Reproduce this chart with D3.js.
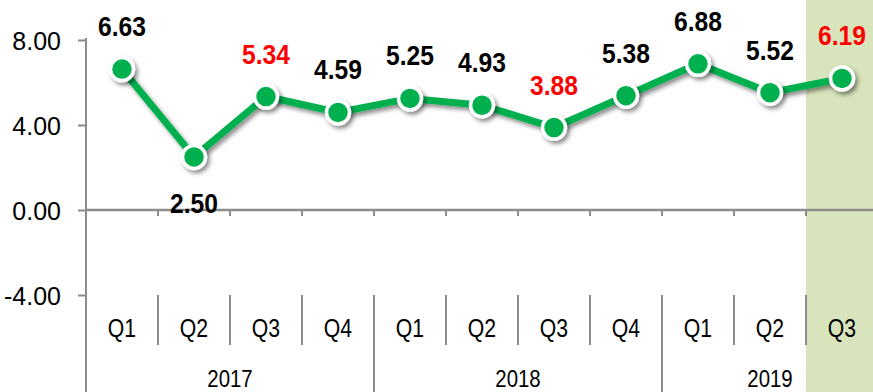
<!DOCTYPE html>
<html>
<head>
<meta charset="utf-8">
<script src="https://cdn.jsdelivr.net/npm/d3@7"></script>
<style>
  html, body { margin: 0; padding: 0; background: #fff; }
  svg { display: block; }
  text { font-family: "Liberation Sans", Arial, sans-serif; }
</style>
</head>
<body>
<svg id="chart" width="873" height="392"></svg>
<script>
// Quarterly values
const quarters = ["Q1", "Q2", "Q3", "Q4", "Q1", "Q2", "Q3", "Q4", "Q1", "Q2", "Q3"];
const years = ["2017", "2018", "2019"];
const yearSpans = [4, 4, 3];
const values = [6.63, 2.50, 5.34, 4.59, 5.25, 4.93, 3.88, 5.38, 6.88, 5.52, 6.19];
const redLabels = [2, 6, 10];
const labelBelow = [1];
const yTicks = [-4, 0, 4, 8];
const highlightIndex = 10;

const svg = d3.select("#chart");
const W = 873, H = 392;
const left = 86, step = 72;

const x = d3.scaleBand()
  .domain(d3.range(values.length))
  .range([left, left + step * values.length])
  .padding(0);

const y = d3.scaleLinear().domain([-4, 8]).range([295, 40]);

// condensed text helper: places text at (px, py) squeezed horizontally by sx
function squeezed(sel, px, py, sx) {
  return sel.attr("x", 0).attr("y", 0)
    .attr("transform", (d, i) => `translate(${px(d, i)},${py(d, i)}) scale(${sx},1)`);
}

// drop shadow
const defs = svg.append("defs");
const f = defs.append("filter").attr("id", "shadow")
  .attr("x", "-50%").attr("y", "-50%").attr("width", "200%").attr("height", "200%");
f.append("feDropShadow").attr("dx", 2.5).attr("dy", 3).attr("stdDeviation", 2)
  .attr("flood-color", "#000").attr("flood-opacity", 0.45);

// highlighted latest quarter
svg.append("rect")
  .attr("x", x(highlightIndex))
  .attr("y", 0)
  .attr("width", x.bandwidth())
  .attr("height", H)
  .attr("fill", "#d8e4bc");

const axisColor = "#8c8c8c";

// y axis
const fmt = d => d.toFixed(2);
const yAxis = svg.append("g")
  .attr("transform", `translate(${left},0)`)
  .call(d3.axisLeft(y).tickValues(yTicks).tickFormat(fmt).tickSize(8).tickSizeOuter(0));
yAxis.select(".domain").remove();
yAxis.attr("font-family", null).attr("font-size", null);
yAxis.selectAll(".tick line").attr("stroke", axisColor).attr("stroke-width", 2);
yAxis.selectAll(".tick text")
  .attr("x", -25)
  .attr("dy", "0.36em")
  .attr("font-size", 25)
  .attr("fill", "#000");
svg.append("line")
  .attr("x1", left).attr("x2", left)
  .attr("y1", y(8) - 2).attr("y2", H)
  .attr("stroke", axisColor).attr("stroke-width", 2);

// zero line with small ticks at category boundaries
svg.append("line")
  .attr("x1", left).attr("x2", W)
  .attr("y1", y(0)).attr("y2", y(0))
  .attr("stroke", axisColor).attr("stroke-width", 2.5);
svg.selectAll(".zt")
  .data(d3.range(1, values.length))
  .join("line")
  .attr("x1", d => x(d)).attr("x2", d => x(d))
  .attr("y1", y(0)).attr("y2", y(0) + 6)
  .attr("stroke", axisColor).attr("stroke-width", 2);

// category separators and labels
const catTop = y(-4), catBottom = catTop + 50;
svg.selectAll(".qsep")
  .data(d3.range(1, values.length))
  .join("line")
  .attr("x1", d => x(d)).attr("x2", d => x(d))
  .attr("y1", catTop).attr("y2", catBottom)
  .attr("stroke", axisColor).attr("stroke-width", 2);
squeezed(svg.selectAll(".qlab")
  .data(quarters)
  .join("text"),
  (d, i) => x(i) + x.bandwidth() / 2, () => catTop + 42, 0.8)
  .attr("text-anchor", "middle")
  .attr("font-size", 26.5)
  .attr("fill", "#000")
  .text(d => d);

// year separators and labels, each centred on its full group of quarters
let start = 0;
const yearPos = yearSpans.map(n => { const p = { s: start, e: start + n }; start += n; return p; });
svg.selectAll(".ysep")
  .data(yearPos.slice(1))
  .join("line")
  .attr("x1", d => x(d.s)).attr("x2", d => x(d.s))
  .attr("y1", catTop).attr("y2", H)
  .attr("stroke", axisColor).attr("stroke-width", 2);
squeezed(svg.selectAll(".ylab")
  .data(years)
  .join("text"),
  (d, i) => {
    const p = yearPos[i];
    return (x(p.s) + x(p.e - 1) + x.bandwidth()) / 2;
  }, () => catTop + 92, 0.85)
  .attr("text-anchor", "middle")
  .attr("font-size", 24)
  .attr("fill", "#000")
  .text(d => d);

// series line
const cx = i => x(i) + x.bandwidth() / 2;
const line = d3.line().x((d, i) => cx(i)).y(d => y(d));
svg.append("path")
  .datum(values)
  .attr("d", line)
  .attr("fill", "none")
  .attr("stroke", "#00b050")
  .attr("stroke-width", 7)
  .attr("stroke-linejoin", "round")
  .attr("filter", "url(#shadow)");

// markers
svg.selectAll(".pt")
  .data(values)
  .join("circle")
  .attr("cx", (d, i) => cx(i))
  .attr("cy", d => y(d))
  .attr("r", 11.5)
  .attr("fill", "#00b050")
  .attr("stroke", "#fff")
  .attr("stroke-width", 3.5)
  .attr("filter", "url(#shadow)");

// value labels
squeezed(svg.selectAll(".vl")
  .data(values)
  .join("text"),
  (d, i) => cx(i),
  (d, i) => labelBelow.includes(i) ? y(d) + 56 : y(d) - 33, 0.88)
  .attr("text-anchor", "middle")
  .attr("font-size", 28)
  .attr("font-weight", "bold")
  .attr("fill", (d, i) => redLabels.includes(i) ? "#ff0000" : "#000")
  .text(d => d.toFixed(2));
</script>
</body>
</html>
